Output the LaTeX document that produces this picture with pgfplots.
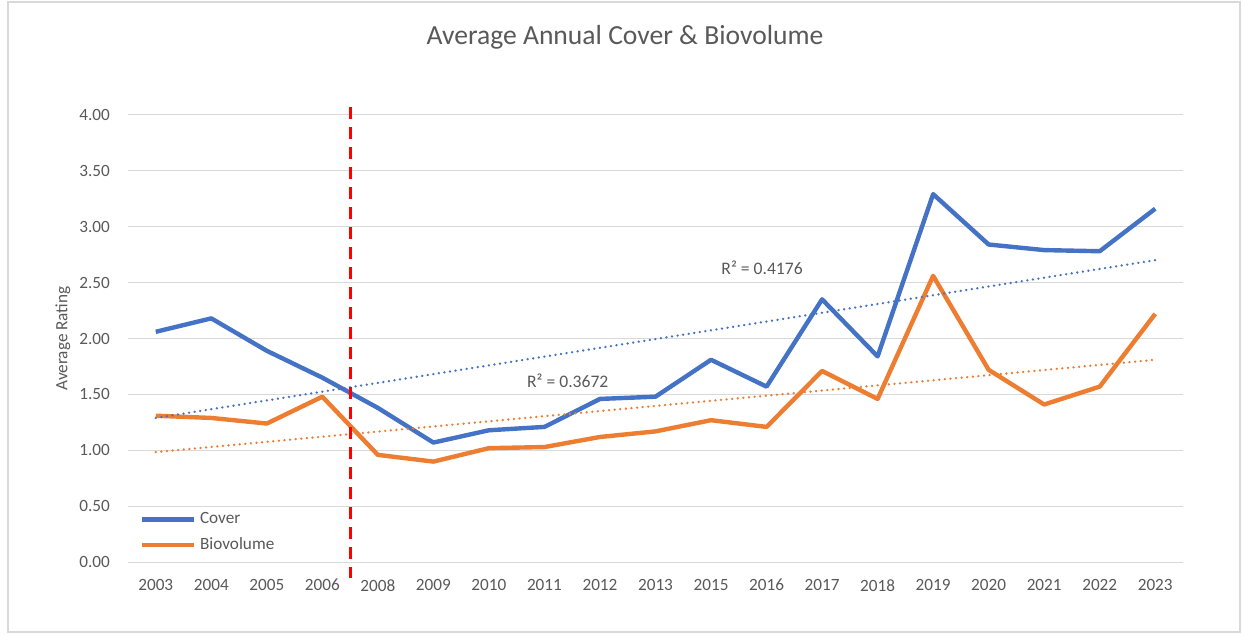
\documentclass[border=0pt]{standalone}
\usepackage{pgfplots}
\pgfplotsset{compat=1.18}
\usepackage{fontspec}
\setmainfont{Carlito}
\definecolor{cblue}{HTML}{4472C4}
\definecolor{corange}{HTML}{ED7D31}
\definecolor{txt}{HTML}{595959}
\definecolor{gridc}{HTML}{D9D9D9}
\definecolor{pred}{HTML}{FF0000}
\begin{document}
\begin{tikzpicture}[x=0.5pt,y=0.5pt]
\useasboundingbox (0,0) rectangle (1243,634);
\draw[gridc, line width=0.6pt] (8,2) rectangle (1240,632);
\node[txt, font=\fontsize{13.8}{16}\selectfont] at (625,597) {Average Annual Cover \& Biovolume};
\begin{axis}[
  at={(64pt,35.85pt)}, anchor=south west, scale only axis,
  width=527.5pt, height=223.8pt,
  xmin=-0.5, xmax=18.5, ymin=0, ymax=4,
  clip=false,
  xtick={0,...,18},
  xticklabels={2003,2004,2005,2006,2008,2009,2010,2011,2012,2013,2015,2016,2017,2018,2019,2020,2021,2022,2023},
  ytick={0,0.5,1,1.5,2,2.5,3,3.5,4},
  yticklabel style={/pgf/number format/fixed, /pgf/number format/fixed zerofill, /pgf/number format/precision=2, xshift=-5.5pt},
  xticklabel style={yshift=-5pt},
  /pgf/number format/assume math mode=true,
  tick label style={txt, font=\fontsize{8.6}{10}\selectfont},
  major tick length=0pt,
  axis line style={draw=none},
  ymajorgrids, grid style={gridc, line width=0.75pt},
  ylabel={Average Rating},
  ylabel style={at={(axis description cs:-0.0616,0.5)}, anchor=center, txt, font=\fontsize{8.6}{10}\selectfont},
  legend style={at={(0.005,0.003)}, anchor=south west, draw=none, fill=none, text=txt, font=\fontsize{8.6}{10}\selectfont, row sep=1.5pt, cells={anchor=west}},
  legend image code/.code={\draw[#1] (0pt,0pt) -- (26pt,0pt);},
]
\addplot[cblue, line width=2.2pt, line join=round] coordinates {
(0,2.06) (1,2.18) (2,1.89) (3,1.65) (4,1.38) (5,1.07) (6,1.18) (7,1.21) (8,1.46) (9,1.48)
(10,1.81) (11,1.57) (12,2.35) (13,1.84) (14,3.29) (15,2.84) (16,2.79) (17,2.78) (18,3.16)};
\addlegendentry{Cover}
\addplot[corange, line width=2.2pt, line join=round] coordinates {
(0,1.31) (1,1.29) (2,1.24) (3,1.48) (4,0.96) (5,0.90) (6,1.02) (7,1.03) (8,1.12) (9,1.17)
(10,1.27) (11,1.21) (12,1.71) (13,1.46) (14,2.56) (15,1.72) (16,1.41) (17,1.57) (18,2.22)};
\addlegendentry{Biovolume}
\addplot[cblue, line width=1.3pt, line cap=round, dash pattern=on 0.01pt off 2.8pt, forget plot] coordinates {(0,1.29) (18,2.70)};
\addplot[corange, line width=1.3pt, line cap=round, dash pattern=on 0.01pt off 2.8pt, forget plot] coordinates {(0,0.985) (18,1.81)};
\addplot[pred, line width=1.5pt, dash pattern=on 6pt off 4pt, forget plot] coordinates {(3.5,4.07) (3.5,-0.14)};
\node[txt, font=\fontsize{8.8}{10}\selectfont] at (axis cs:10.92,2.63) {R² = 0.4176};
\node[txt, font=\fontsize{8.8}{10}\selectfont] at (axis cs:7.42,1.62) {R² = 0.3672};
\end{axis}
\end{tikzpicture}
\end{document}
